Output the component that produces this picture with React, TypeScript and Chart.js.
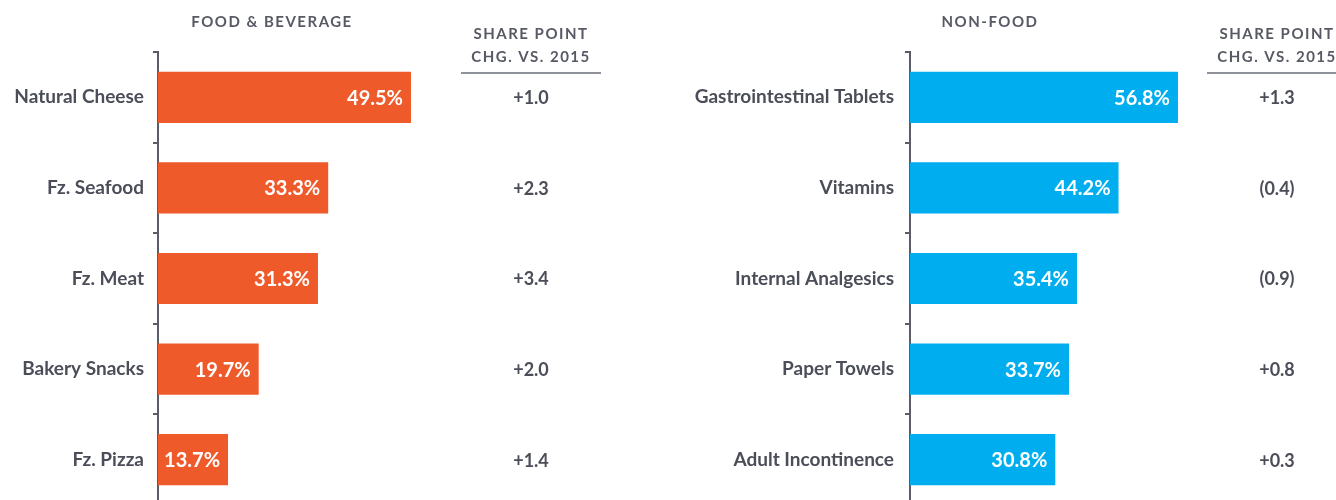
import React, { useEffect, useRef } from "react";
import { Chart, registerables } from "chart.js";

Chart.register(...registerables);

const foodCategories = ["Natural Cheese", "Fz. Seafood", "Fz. Meat", "Bakery Snacks", "Fz. Pizza"];
const foodShare = [49.5, 33.3, 31.3, 19.7, 13.7];
const foodChange = ["+1.0", "+2.3", "+3.4", "+2.0", "+1.4"];

const nonFoodCategories = ["Gastrointestinal Tablets", "Vitamins", "Internal Analgesics", "Paper Towels", "Adult Incontinence"];
const nonFoodShare = [56.8, 44.2, 35.4, 33.7, 30.8];
const nonFoodChange = ["+1.3", "(0.4)", "(0.9)", "+0.8", "+0.3"];

const tableHeader = ["SHARE POINT", "CHG. VS. 2015"];

const FONT = "Lato, 'Noto Sans', sans-serif";
const TEXT = "#4b4e58";
const AXIS = "#5a5d67";

type PanelSpec = {
  title: string;
  categories: string[];
  values: number[];
  changes: string[];
  color: string;
  axisLeft: number;
  xMax: number;
  padRight: number;
  titleX: number;
  tableX: number;
  labelPad: number;
};

const panels: PanelSpec[] = [
  {
    title: "FOOD & BEVERAGE",
    categories: foodCategories,
    values: foodShare,
    changes: foodChange,
    color: "#ef5a2b",
    axisLeft: 158,
    xMax: 90,
    padRight: 50,
    titleX: 272,
    tableX: 531,
    labelPad: 9,
  },
  {
    title: "NON-FOOD",
    categories: nonFoodCategories,
    values: nonFoodShare,
    changes: nonFoodChange,
    color: "#00aeef",
    axisLeft: 242,
    xMax: 90,
    padRight: 1.4,
    titleX: 322,
    tableX: 609,
    labelPad: 11,
  },
];

const W = 668;
const H = 505;

function Panel({ spec, left }: { spec: PanelSpec; left: number }) {
  const ref = useRef<HTMLCanvasElement | null>(null);
  useEffect(() => {
    if (!ref.current) return;
    const overlay = {
      id: "overlay",
      afterDraw(chart: any) {
        const ctx = chart.ctx;
        const yScale = chart.scales.y;
        ctx.save();
        // title
        ctx.fillStyle = "#575a64";
        ctx.font = `bold 15px ${FONT}`;
        (ctx as any).letterSpacing = "1.5px";
        ctx.textAlign = "center";
        ctx.textBaseline = "middle";
        ctx.fillText(spec.title, spec.titleX, 22);
        // table header
        ctx.fillText(tableHeader[0], spec.tableX, 34);
        ctx.fillText(tableHeader[1], spec.tableX, 57);
        (ctx as any).letterSpacing = "0px";
        ctx.strokeStyle = "#6b6e78";
        ctx.lineWidth = 1.5;
        ctx.beginPath();
        ctx.moveTo(spec.tableX - 70, 73);
        ctx.lineTo(spec.tableX + 70, 73);
        ctx.stroke();
        // table values
        ctx.fillStyle = TEXT;
        ctx.font = `bold 18px ${FONT}`;
        spec.changes.forEach((c, i) => {
          ctx.fillText(c, spec.tableX, yScale.getPixelForValue(i) + 1);
        });
        // bar labels
        const meta = chart.getDatasetMeta(0);
        ctx.fillStyle = "#ffffff";
        ctx.font = `bold 20px ${FONT}`;
        ctx.textAlign = "right";
        meta.data.forEach((bar: any, i: number) => {
          ctx.fillText(spec.values[i].toFixed(1) + "%", bar.x - 8, bar.y + 1);
        });
        ctx.restore();
      },
    };
    const chart = new Chart(ref.current, {
      type: "bar",
      data: {
        labels: spec.categories,
        datasets: [
          {
            data: spec.values,
            backgroundColor: spec.color,
            borderWidth: 0,
            barPercentage: 0.565,
            categoryPercentage: 1,
          },
        ],
      },
      options: {
        indexAxis: "y",
        animation: false,
        responsive: false,
        devicePixelRatio: 1,
        layout: { padding: { top: 52, right: spec.padRight, bottom: 0, left: 0 } },
        plugins: { legend: { display: false }, tooltip: { enabled: false } },
        scales: {
          x: { display: false, min: 0, max: spec.xMax },
          y: {
            afterFit: (scale: any) => {
              scale.width = spec.axisLeft;
              scale.paddingTop = 0;
              scale.paddingBottom = 0;
            },
            border: { display: true, color: AXIS, width: 2 },
            grid: {
              display: true,
              drawOnChartArea: false,
              drawTicks: true,
              tickLength: 5,
              color: AXIS,
              lineWidth: 2,
              offset: true,
            },
            ticks: {
              color: TEXT,
              font: { family: FONT, size: 19, weight: "bold" },
              padding: spec.labelPad,
            },
          },
        },
      },
      plugins: [overlay],
    } as any);
    return () => chart.destroy();
  }, [spec]);
  return (
    <div style={{ position: "absolute", left, top: 0, width: W, height: H }}>
      <canvas ref={ref} width={W} height={H} style={{ width: W, height: H, display: "block" }} />
    </div>
  );
}

export default function App() {
  return (
    <div
      style={{
        position: "fixed",
        left: 0,
        top: 0,
        width: 1336,
        height: 500,
        overflow: "hidden",
        background: "#ffffff",
      }}
    >
      <Panel spec={panels[0]} left={0} />
      <Panel spec={panels[1]} left={668} />
    </div>
  );
}
